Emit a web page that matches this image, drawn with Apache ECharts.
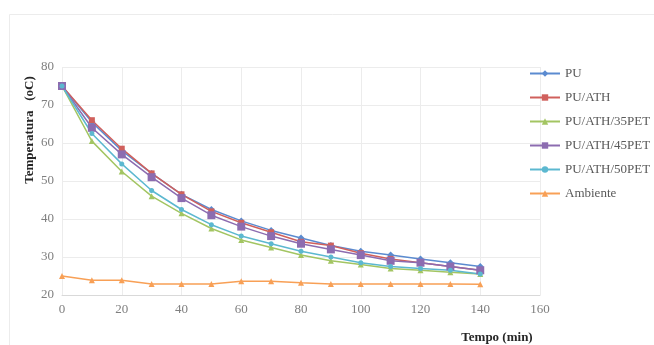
<!DOCTYPE html>
<html><head><meta charset="utf-8">
<script src="https://cdn.jsdelivr.net/npm/echarts@6/dist/echarts.min.js"></script>
<style>html,body{margin:0;padding:0;background:#fff}#c{width:654px;height:345px}</style>
</head><body><div id="c"></div>
<script>
const tempo = [0,10,20,30,40,50,60,70,80,90,100,110,120,130,140];
const PU      = [75,65.5,58,52,46.5,42.5,39.5,37,35,33,31.5,30.5,29.5,28.5,27.5];
const PU_ATH  = [75,66,58.5,52,46.5,42,39,36.5,34,33,31,29.5,28.5,27.5,26.5];
const PET35   = [75,60.5,52.5,46,41.5,37.5,34.5,32.5,30.5,29,28,27,26.5,26,25.5];
const PET45   = [75,64,57,51,45.5,41,38,35.5,33.5,32,30.5,29,28.5,27.5,26.5];
const PET50   = [75,62.5,54.5,47.5,42.5,38.5,35.5,33.5,31.5,30,28.5,27.5,27,26.5,25.5];
const ambiente= [25,23.9,23.9,22.9,22.9,22.9,23.6,23.6,23.2,22.9,22.9,22.9,22.9,22.9,22.8];
const names = ['PU','PU/ATH','PU/ATH/35PET','PU/ATH/45PET','PU/ATH/50PET','Ambiente'];
const colors = ['#5B8BD0','#D0605C','#A3C562','#8C6CB0','#5CB8D0','#F8A056'];
const symbols = ['diamond','rect','triangle','rect','circle','triangle'];
const sizes = [7,6,6,8,5,6];
const all = [PU,PU_ATH,PET35,PET45,PET50,ambiente];
const font = '"Liberation Serif", "DejaVu Serif", serif';
const chart = echarts.init(document.getElementById('c'));
chart.setOption({
  animation:false,
  backgroundColor:'#fff',
  color:colors,
  grid:{left:62,right:114,top:67,bottom:50},
  legend:{
    orient:'vertical', left:524, top:62, itemGap:11, itemWidth:30, itemHeight:8,
    textStyle:{fontFamily:font,fontSize:13,color:'#595959'},
    data:names
  },
  xAxis:{type:'value',min:0,max:160,interval:20,
    axisLine:{show:true,lineStyle:{color:'#d9d9d9'}},axisTick:{show:false},
    splitLine:{show:true,lineStyle:{color:'#ececec'}},
    axisLabel:{fontFamily:font,fontSize:13,color:'#7f7f7f',margin:8}},
  yAxis:{type:'value',min:20,max:80,interval:10,
    axisLine:{show:false},axisTick:{show:false},
    splitLine:{show:true,lineStyle:{color:'#ececec'}},
    axisLabel:{fontFamily:font,fontSize:13,color:'#7f7f7f',margin:8}},
  graphic:[
    {type:'rect',shape:{x:9.5,y:14.5,width:660,height:340},style:{fill:'none',stroke:'#ececec',lineWidth:1},silent:true,z:-1},
    {type:'text',x:30,y:130,rotation:Math.PI/2,style:{text:'Temperatura   (oC)',fontFamily:font,fontSize:13,fontWeight:'bold',fill:'#262626',textAlign:'center',textVerticalAlign:'middle'}},
    {type:'text',x:497,y:338,style:{text:'Tempo (min)',fontFamily:font,fontSize:13,fontWeight:'bold',fill:'#262626',textAlign:'center',textVerticalAlign:'middle'}}
  ],
  series: all.map((d,i)=>({
    name:names[i],type:'line',
    data:tempo.map((t,j)=>[t,d[j]]),
    symbol:symbols[i],symbolSize:sizes[i],
    lineStyle:{width:1.5,color:colors[i]},
    itemStyle:{color:colors[i]}
  }))
});
</script></body></html>
